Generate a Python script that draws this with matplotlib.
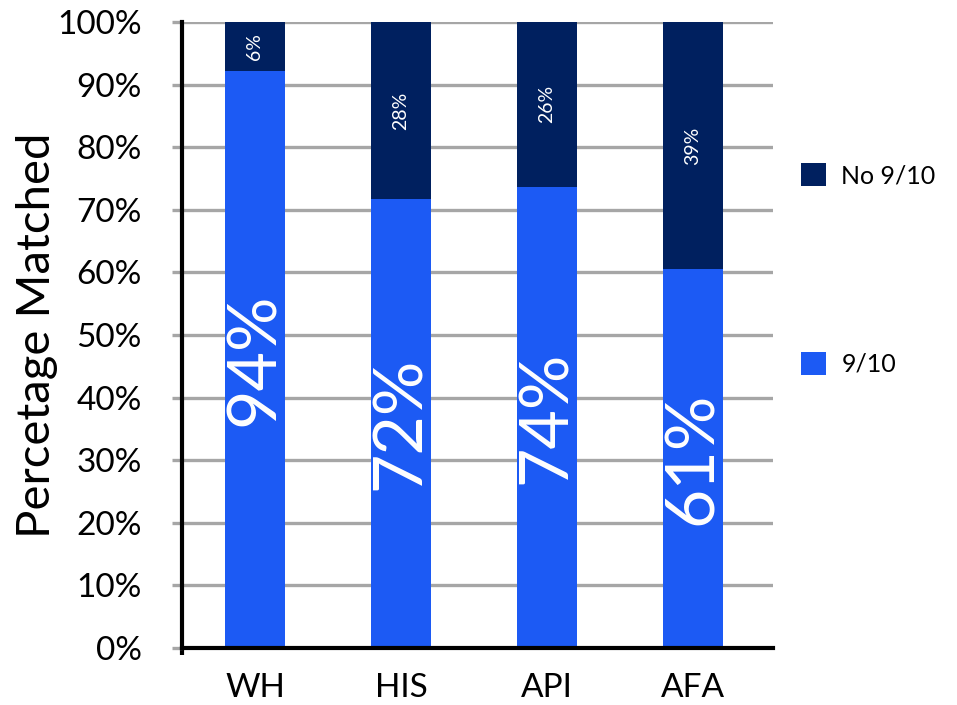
import matplotlib
matplotlib.use("Agg")
import matplotlib.pyplot as plt
from matplotlib.ticker import PercentFormatter

plt.rcParams['font.family'] = ['Lato', 'DejaVu Sans']

groups = ["WH", "HIS", "API", "AFA"]
# bar heights as drawn (percent of 100)
matched = [92.2, 71.7, 73.7, 60.5]
no_match = [7.8, 28.3, 26.3, 39.5]
matched_labels = ["94%", "72%", "74%", "61%"]
no_match_labels = ["6%", "28%", "26%", "39%"]

blue = "#1c5af4"
navy = "#00205f"
grey = "#a6a6a6"

fig = plt.figure(figsize=(9.57, 7.05), dpi=100)
ax = fig.add_axes([182/957, 57/705, 591/957, 626/705])

x = list(range(len(groups)))
b1 = ax.bar(x, matched, width=0.41, color=blue, label="9/10", zorder=3)
b2 = ax.bar(x, no_match, width=0.41, bottom=matched, color=navy, label="No 9/10", zorder=3)

for i in x:
    ax.text(i, matched[i] / 2, matched_labels[i], rotation=90, ha="center", va="center",
            color="white", fontsize=49, zorder=4)
    ax.text(i, matched[i] + no_match[i] / 2, no_match_labels[i], rotation=90, ha="center",
            va="center", color="white", fontsize=14, zorder=4)

ax.set_xlim(-0.5, 3.55)
ax.set_ylim(0, 100)
ax.set_yticks(range(0, 101, 10))
ax.yaxis.set_major_formatter(PercentFormatter(decimals=0))
ax.set_xticks(x)
ax.set_xticklabels(groups)
ax.grid(axis="y", color=grey, linewidth=2.4, zorder=0)
ax.set_axisbelow(True)

for s in ["top", "right"]:
    ax.spines[s].set_visible(False)
ax.spines["left"].set_linewidth(3)
ax.spines["bottom"].set_linewidth(3)
ax.spines["left"].set_zorder(5)
ax.spines["bottom"].set_zorder(5)

ax.tick_params(axis="y", labelsize=24, length=7, width=2.4, color=grey, pad=22)
ax.tick_params(axis="x", labelsize=24, length=0, pad=18)
ax.set_xticks([-0.5], minor=True)
ax.tick_params(axis="x", which="minor", length=5, width=3, color="black")

ax.set_ylabel("Percetage Matched", fontsize=34, labelpad=-1)

ax.legend(handles=[b2, b1], labels=["No 9/10", "9/10"], loc="upper left",
          bbox_to_anchor=(1.01, 0.81), frameon=False, fontsize=18,
          handlelength=1.0, handleheight=1.0, handletextpad=0.6, labelspacing=6.6)

fig.savefig("out.png", dpi=100)
